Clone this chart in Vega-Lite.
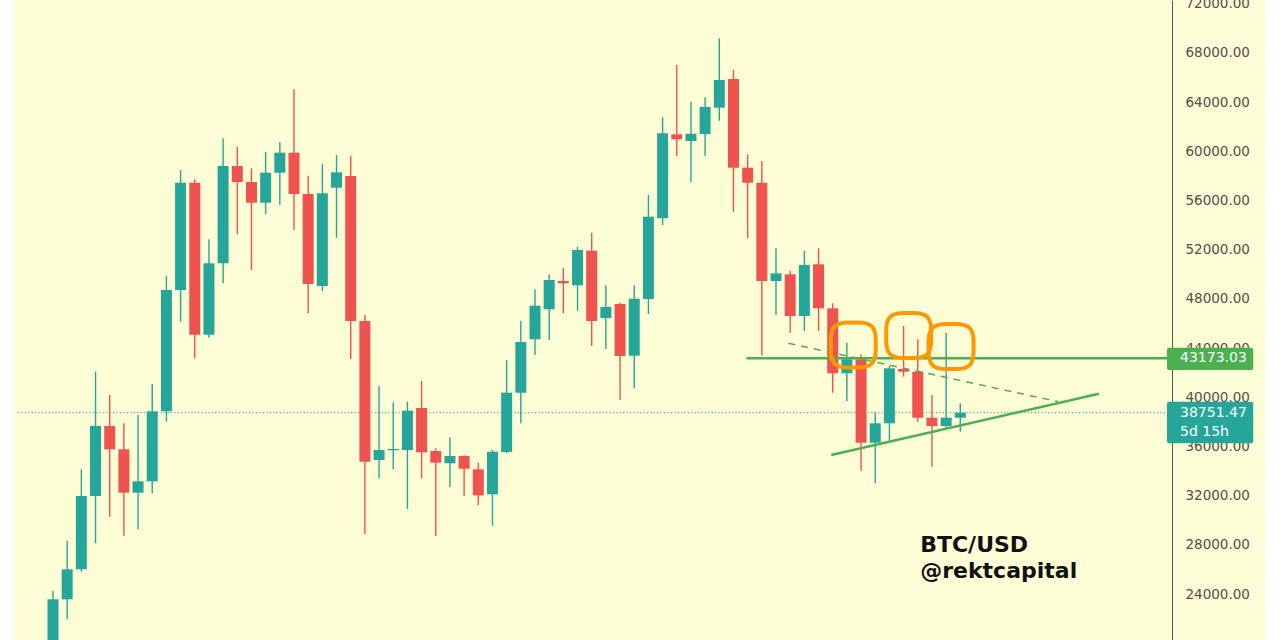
{
  "$schema": "https://vega.github.io/schema/vega-lite/v6.json",
  "width": 1252,
  "height": 640,
  "autosize": {"type": "none"},
  "padding": {"left": 13, "right": 15, "top": 0, "bottom": 0},
  "background": "#ffffff",
  "config": {"view": {"fill": "#fdfdd6", "stroke": null}, "font": "DejaVu Sans"},
  "datasets": {
    "candles": [
      {"date": "2020-12-14", "open": 19150, "high": 24283, "low": 19000, "close": 23584},
      {"date": "2020-12-21", "open": 23584, "high": 28347, "low": 21959, "close": 26023},
      {"date": "2020-12-28", "open": 26023, "high": 34151, "low": 25828, "close": 31981},
      {"date": "2021-01-04", "open": 31981, "high": 42083, "low": 28136, "close": 37670},
      {"date": "2021-01-11", "open": 37670, "high": 40190, "low": 30298, "close": 35776},
      {"date": "2021-01-18", "open": 35776, "high": 37889, "low": 28754, "close": 32249},
      {"date": "2021-01-25", "open": 32249, "high": 38564, "low": 29274, "close": 33175},
      {"date": "2021-02-01", "open": 33175, "high": 41084, "low": 32200, "close": 38865},
      {"date": "2021-02-08", "open": 38865, "high": 49862, "low": 38020, "close": 48724},
      {"date": "2021-02-15", "open": 48724, "high": 58478, "low": 46147, "close": 57445},
      {"date": "2021-02-22", "open": 57445, "high": 57722, "low": 43173, "close": 45091},
      {"date": "2021-03-01", "open": 45091, "high": 52845, "low": 44847, "close": 50894},
      {"date": "2021-03-08", "open": 50894, "high": 61054, "low": 49269, "close": 58803},
      {"date": "2021-03-15", "open": 58803, "high": 60371, "low": 53276, "close": 57502},
      {"date": "2021-03-22", "open": 57502, "high": 58616, "low": 50350, "close": 55819},
      {"date": "2021-03-29", "open": 55819, "high": 59941, "low": 54877, "close": 58258},
      {"date": "2021-04-05", "open": 58258, "high": 60729, "low": 55633, "close": 59884},
      {"date": "2021-04-12", "open": 59884, "high": 65037, "low": 53601, "close": 56527},
      {"date": "2021-04-19", "open": 56527, "high": 58015, "low": 46830, "close": 49212},
      {"date": "2021-04-26", "open": 49050, "high": 58965, "low": 48643, "close": 56584},
      {"date": "2021-05-03", "open": 57039, "high": 59697, "low": 52975, "close": 58291},
      {"date": "2021-05-10", "open": 58000, "high": 59615, "low": 43116, "close": 46204},
      {"date": "2021-05-17", "open": 46204, "high": 46692, "low": 28892, "close": 34768},
      {"date": "2021-05-24", "open": 34906, "high": 40946, "low": 33419, "close": 35719},
      {"date": "2021-05-31", "open": 35700, "high": 39596, "low": 34150, "close": 35800},
      {"date": "2021-06-07", "open": 35719, "high": 39645, "low": 30924, "close": 38914},
      {"date": "2021-06-14", "open": 39133, "high": 41328, "low": 33419, "close": 35532},
      {"date": "2021-06-21", "open": 35638, "high": 35857, "low": 28729, "close": 34687},
      {"date": "2021-06-28", "open": 34638, "high": 36752, "low": 32688, "close": 35232},
      {"date": "2021-07-05", "open": 35232, "high": 35288, "low": 31980, "close": 34199},
      {"date": "2021-07-12", "open": 34150, "high": 34687, "low": 31249, "close": 32037},
      {"date": "2021-07-19", "open": 32118, "high": 35719, "low": 29567, "close": 35581},
      {"date": "2021-07-26", "open": 35557, "high": 43034, "low": 35451, "close": 40377},
      {"date": "2021-08-02", "open": 40377, "high": 46204, "low": 37889, "close": 44498},
      {"date": "2021-08-09", "open": 44717, "high": 48781, "low": 43441, "close": 47448},
      {"date": "2021-08-16", "open": 47155, "high": 50000, "low": 44660, "close": 49537},
      {"date": "2021-08-23", "open": 49456, "high": 50537, "low": 46830, "close": 49268},
      {"date": "2021-08-30", "open": 49106, "high": 52243, "low": 47042, "close": 51975},
      {"date": "2021-09-06", "open": 51918, "high": 53381, "low": 44172, "close": 46204},
      {"date": "2021-09-13", "open": 46448, "high": 49106, "low": 43928, "close": 47343},
      {"date": "2021-09-20", "open": 47587, "high": 47692, "low": 39783, "close": 43359},
      {"date": "2021-09-27", "open": 43384, "high": 49106, "low": 40734, "close": 48017},
      {"date": "2021-10-04", "open": 47993, "high": 56446, "low": 46773, "close": 54682},
      {"date": "2021-10-11", "open": 54552, "high": 62762, "low": 54007, "close": 61461},
      {"date": "2021-10-18", "open": 61380, "high": 67012, "low": 59615, "close": 60973},
      {"date": "2021-10-25", "open": 60835, "high": 64029, "low": 57502, "close": 61428},
      {"date": "2021-11-01", "open": 61404, "high": 64387, "low": 59615, "close": 63599},
      {"date": "2021-11-08", "open": 63542, "high": 69182, "low": 62485, "close": 65793},
      {"date": "2021-11-15", "open": 65874, "high": 66606, "low": 55088, "close": 58665},
      {"date": "2021-11-22", "open": 58665, "high": 59754, "low": 52926, "close": 57445},
      {"date": "2021-11-29", "open": 57445, "high": 59209, "low": 43384, "close": 49456},
      {"date": "2021-12-06", "open": 49456, "high": 52114, "low": 46692, "close": 50081},
      {"date": "2021-12-13", "open": 50000, "high": 50293, "low": 45254, "close": 46611},
      {"date": "2021-12-20", "open": 46611, "high": 51918, "low": 45391, "close": 50756},
      {"date": "2021-12-27", "open": 50813, "high": 52114, "low": 45391, "close": 47236},
      {"date": "2022-01-03", "open": 47236, "high": 47643, "low": 40377, "close": 41953},
      {"date": "2022-01-10", "open": 41953, "high": 44441, "low": 39702, "close": 43091},
      {"date": "2022-01-17", "open": 43091, "high": 43498, "low": 34037, "close": 36313},
      {"date": "2022-01-24", "open": 36313, "high": 38832, "low": 33013, "close": 37889},
      {"date": "2022-01-31", "open": 37889, "high": 42571, "low": 36475, "close": 42360},
      {"date": "2022-02-07", "open": 42303, "high": 45798, "low": 41677, "close": 42083},
      {"date": "2022-02-14", "open": 42083, "high": 44717, "low": 38020, "close": 38345},
      {"date": "2022-02-21", "open": 38345, "high": 40190, "low": 34362, "close": 37670},
      {"date": "2022-02-28", "open": 37670, "high": 45254, "low": 37483, "close": 38345},
      {"date": "2022-03-07", "open": 38345, "high": 39515, "low": 37207, "close": 38751.47}
    ]
  },
  "layer": [
    {
      "data": {"values": [{"start": "2020-11-26T17:17:00Z", "end": "2022-06-17T01:29:00Z", "price": 38751.47}]},
      "mark": {"type": "rule", "color": "#26a69a", "strokeWidth": 1, "strokeDash": [1.2, 2.2]},
      "encoding": {
        "x": {"field": "start", "type": "temporal", "axis": null, "scale": {"type": "utc", "domain": [{"year": 2020, "month": 11, "date": 26, "hours": 17, "minutes": 17, "utc": true}, {"year": 2022, "month": 6, "date": 17, "hours": 1, "minutes": 29, "utc": true}], "range": [0, 1159]}},
        "x2": {"field": "end"},
        "y": {"field": "price", "type": "quantitative", "scale": {"domain": [20276, 72296], "nice": false, "zero": false},
          "axis": {"title": null, "orient": "right", "offset": -93, "values": [20000, 24000, 28000, 32000, 36000, 40000, 44000, 48000, 52000, 56000, 60000, 64000, 68000, 72000], "format": ".2f", "ticks": false, "grid": false, "labelPadding": 13, "labelFont": "DejaVu Sans", "labelFontSize": 13.5, "labelColor": "#505050", "labelAlign": "left", "labelBaseline": "middle", "labelOverlap": false, "labelBound": false, "labelFlush": false, "domainColor": "#555555", "domainWidth": 1}}
      }
    },
    {
      "data": {"name": "candles"},
      "mark": {"type": "rule", "strokeWidth": 1.4, "clip": true},
      "encoding": {
        "x": {"field": "date", "type": "temporal", "axis": null, "scale": {"type": "utc", "domain": [{"year": 2020, "month": 11, "date": 26, "hours": 17, "minutes": 17, "utc": true}, {"year": 2022, "month": 6, "date": 17, "hours": 1, "minutes": 29, "utc": true}], "range": [0, 1159]}},
        "y": {"field": "low", "type": "quantitative", "title": null, "scale": {"domain": [20276, 72296], "nice": false, "zero": false}},
        "y2": {"field": "high"},
        "color": {"condition": {"test": "datum.close >= datum.open", "value": "#26a69a"}, "value": "#ef5350"}
      }
    },
    {
      "data": {"name": "candles"},
      "mark": {"type": "bar", "width": 11, "clip": true},
      "encoding": {
        "x": {"field": "date", "type": "temporal", "axis": null, "scale": {"type": "utc", "domain": [{"year": 2020, "month": 11, "date": 26, "hours": 17, "minutes": 17, "utc": true}, {"year": 2022, "month": 6, "date": 17, "hours": 1, "minutes": 29, "utc": true}], "range": [0, 1159]}},
        "y": {"field": "open", "type": "quantitative", "title": null, "scale": {"domain": [20276, 72296], "nice": false, "zero": false}},
        "y2": {"field": "close"},
        "color": {"condition": {"test": "datum.close >= datum.open", "value": "#26a69a"}, "value": "#ef5350"}
      }
    },
    {
      "data": {"values": [{"start": "2021-11-21T08:53:00Z", "end": "2022-06-17T01:29:00Z", "price": 43173.03}]},
      "mark": {"type": "rule", "color": "#4caf50", "strokeWidth": 2.5},
      "encoding": {
        "x": {"field": "start", "type": "temporal", "axis": null, "scale": {"type": "utc", "domain": [{"year": 2020, "month": 11, "date": 26, "hours": 17, "minutes": 17, "utc": true}, {"year": 2022, "month": 6, "date": 17, "hours": 1, "minutes": 29, "utc": true}], "range": [0, 1159]}},
        "x2": {"field": "end"},
        "y": {"field": "price", "type": "quantitative", "title": null, "scale": {"domain": [20276, 72296], "nice": false, "zero": false}}
      }
    },
    {
      "data": {"values": [{"date": "2021-12-12T02:10:00Z", "price": 44392, "date2": "2022-04-24T05:31:00Z", "price2": 39661}]},
      "mark": {"type": "rule", "color": "#5aa85d", "strokeWidth": 1.5, "strokeDash": [7, 6]},
      "encoding": {
        "x": {"field": "date", "type": "temporal", "axis": null, "scale": {"type": "utc", "domain": [{"year": 2020, "month": 11, "date": 26, "hours": 17, "minutes": 17, "utc": true}, {"year": 2022, "month": 6, "date": 17, "hours": 1, "minutes": 29, "utc": true}], "range": [0, 1159]}},
        "x2": {"field": "date2"},
        "y": {"field": "price", "type": "quantitative", "title": null, "scale": {"domain": [20276, 72296], "nice": false, "zero": false}},
        "y2": {"field": "price2"}
      }
    },
    {
      "data": {"values": [{"date": "2022-01-02T06:28:00Z", "price": 35313, "date2": "2022-05-14T10:19:00Z", "price2": 40295}]},
      "mark": {"type": "rule", "color": "#4caf50", "strokeWidth": 2.5},
      "encoding": {
        "x": {"field": "date", "type": "temporal", "axis": null, "scale": {"type": "utc", "domain": [{"year": 2020, "month": 11, "date": 26, "hours": 17, "minutes": 17, "utc": true}, {"year": 2022, "month": 6, "date": 17, "hours": 1, "minutes": 29, "utc": true}], "range": [0, 1159]}},
        "x2": {"field": "date2"},
        "y": {"field": "price", "type": "quantitative", "title": null, "scale": {"domain": [20276, 72296], "nice": false, "zero": false}},
        "y2": {"field": "price2"}
      }
    },
    {
      "data": {"values": [
        {"date": "2022-01-13T03:36:00Z", "price": 44254},
        {"date": "2022-02-09T12:29:00Z", "price": 45026},
        {"date": "2022-03-02T10:48:00Z", "price": 44131}
      ]},
      "mark": {"type": "point", "filled": false, "color": "#ff9800", "strokeWidth": 4, "opacity": 1, "size": 2025,
        "shape": "M -0.2,-1 L 0.2,-1 C 0.8,-1 1,-0.8 1,-0.2 L 1,0.2 C 1,0.8 0.8,1 0.2,1 L -0.2,1 C -0.8,1 -1,0.8 -1,0.2 L -1,-0.2 C -1,-0.8 -0.8,-1 -0.2,-1 Z"},
      "encoding": {
        "x": {"field": "date", "type": "temporal", "axis": null, "scale": {"type": "utc", "domain": [{"year": 2020, "month": 11, "date": 26, "hours": 17, "minutes": 17, "utc": true}, {"year": 2022, "month": 6, "date": 17, "hours": 1, "minutes": 29, "utc": true}], "range": [0, 1159]}},
        "y": {"field": "price", "type": "quantitative", "title": null, "scale": {"domain": [20276, 72296], "nice": false, "zero": false}}
      }
    },
    {
      "data": {"values": [
        {"date": "2022-02-15T04:34:00Z", "price": 27429, "label": "BTC/USD"},
        {"date": "2022-02-15T04:34:00Z", "price": 25316, "label": "@rektcapital"}
      ]},
      "mark": {"type": "text", "align": "left", "baseline": "alphabetic", "fontSize": 22, "fontWeight": "bold", "font": "DejaVu Sans", "color": "#111111"},
      "encoding": {
        "x": {"field": "date", "type": "temporal", "axis": null, "scale": {"type": "utc", "domain": [{"year": 2020, "month": 11, "date": 26, "hours": 17, "minutes": 17, "utc": true}, {"year": 2022, "month": 6, "date": 17, "hours": 1, "minutes": 29, "utc": true}], "range": [0, 1159]}},
        "y": {"field": "price", "type": "quantitative", "title": null, "scale": {"domain": [20276, 72296], "nice": false, "zero": false}},
        "text": {"field": "label"}
      }
    },
    {
      "data": {"values": [
        {"kind": "level", "start": "2022-06-17T01:29:00Z", "end": "2022-07-29T15:35:00Z", "lo": 42222, "hi": 44034},
        {"kind": "last", "start": "2022-06-17T01:29:00Z", "end": "2022-07-29T15:35:00Z", "lo": 36264, "hi": 39645}
      ]},
      "mark": {"type": "rect", "cornerRadius": 2},
      "encoding": {
        "x": {"field": "start", "type": "temporal", "axis": null, "scale": {"type": "utc", "domain": [{"year": 2020, "month": 11, "date": 26, "hours": 17, "minutes": 17, "utc": true}, {"year": 2022, "month": 6, "date": 17, "hours": 1, "minutes": 29, "utc": true}], "range": [0, 1159]}},
        "x2": {"field": "end"},
        "y": {"field": "lo", "type": "quantitative", "title": null, "scale": {"domain": [20276, 72296], "nice": false, "zero": false}},
        "y2": {"field": "hi"},
        "color": {"field": "kind", "type": "nominal", "legend": null, "scale": {"domain": ["level", "last"], "range": ["#4caf50", "#26a69a"]}}
      }
    },
    {
      "data": {"values": [
        {"date": "2022-06-17T01:29:00Z", "price": 43173.03, "label": "43173.03"},
        {"date": "2022-06-17T01:29:00Z", "price": 38751.47, "label": "38751.47"},
        {"date": "2022-06-17T01:29:00Z", "price": 37207, "label": "5d 15h"}
      ]},
      "mark": {"type": "text", "align": "left", "baseline": "middle", "dx": 13, "fontSize": 14, "font": "DejaVu Sans", "color": "#ffffff"},
      "encoding": {
        "x": {"field": "date", "type": "temporal", "axis": null, "scale": {"type": "utc", "domain": [{"year": 2020, "month": 11, "date": 26, "hours": 17, "minutes": 17, "utc": true}, {"year": 2022, "month": 6, "date": 17, "hours": 1, "minutes": 29, "utc": true}], "range": [0, 1159]}},
        "y": {"field": "price", "type": "quantitative", "title": null, "scale": {"domain": [20276, 72296], "nice": false, "zero": false}},
        "text": {"field": "label"}
      }
    }
  ]
}
